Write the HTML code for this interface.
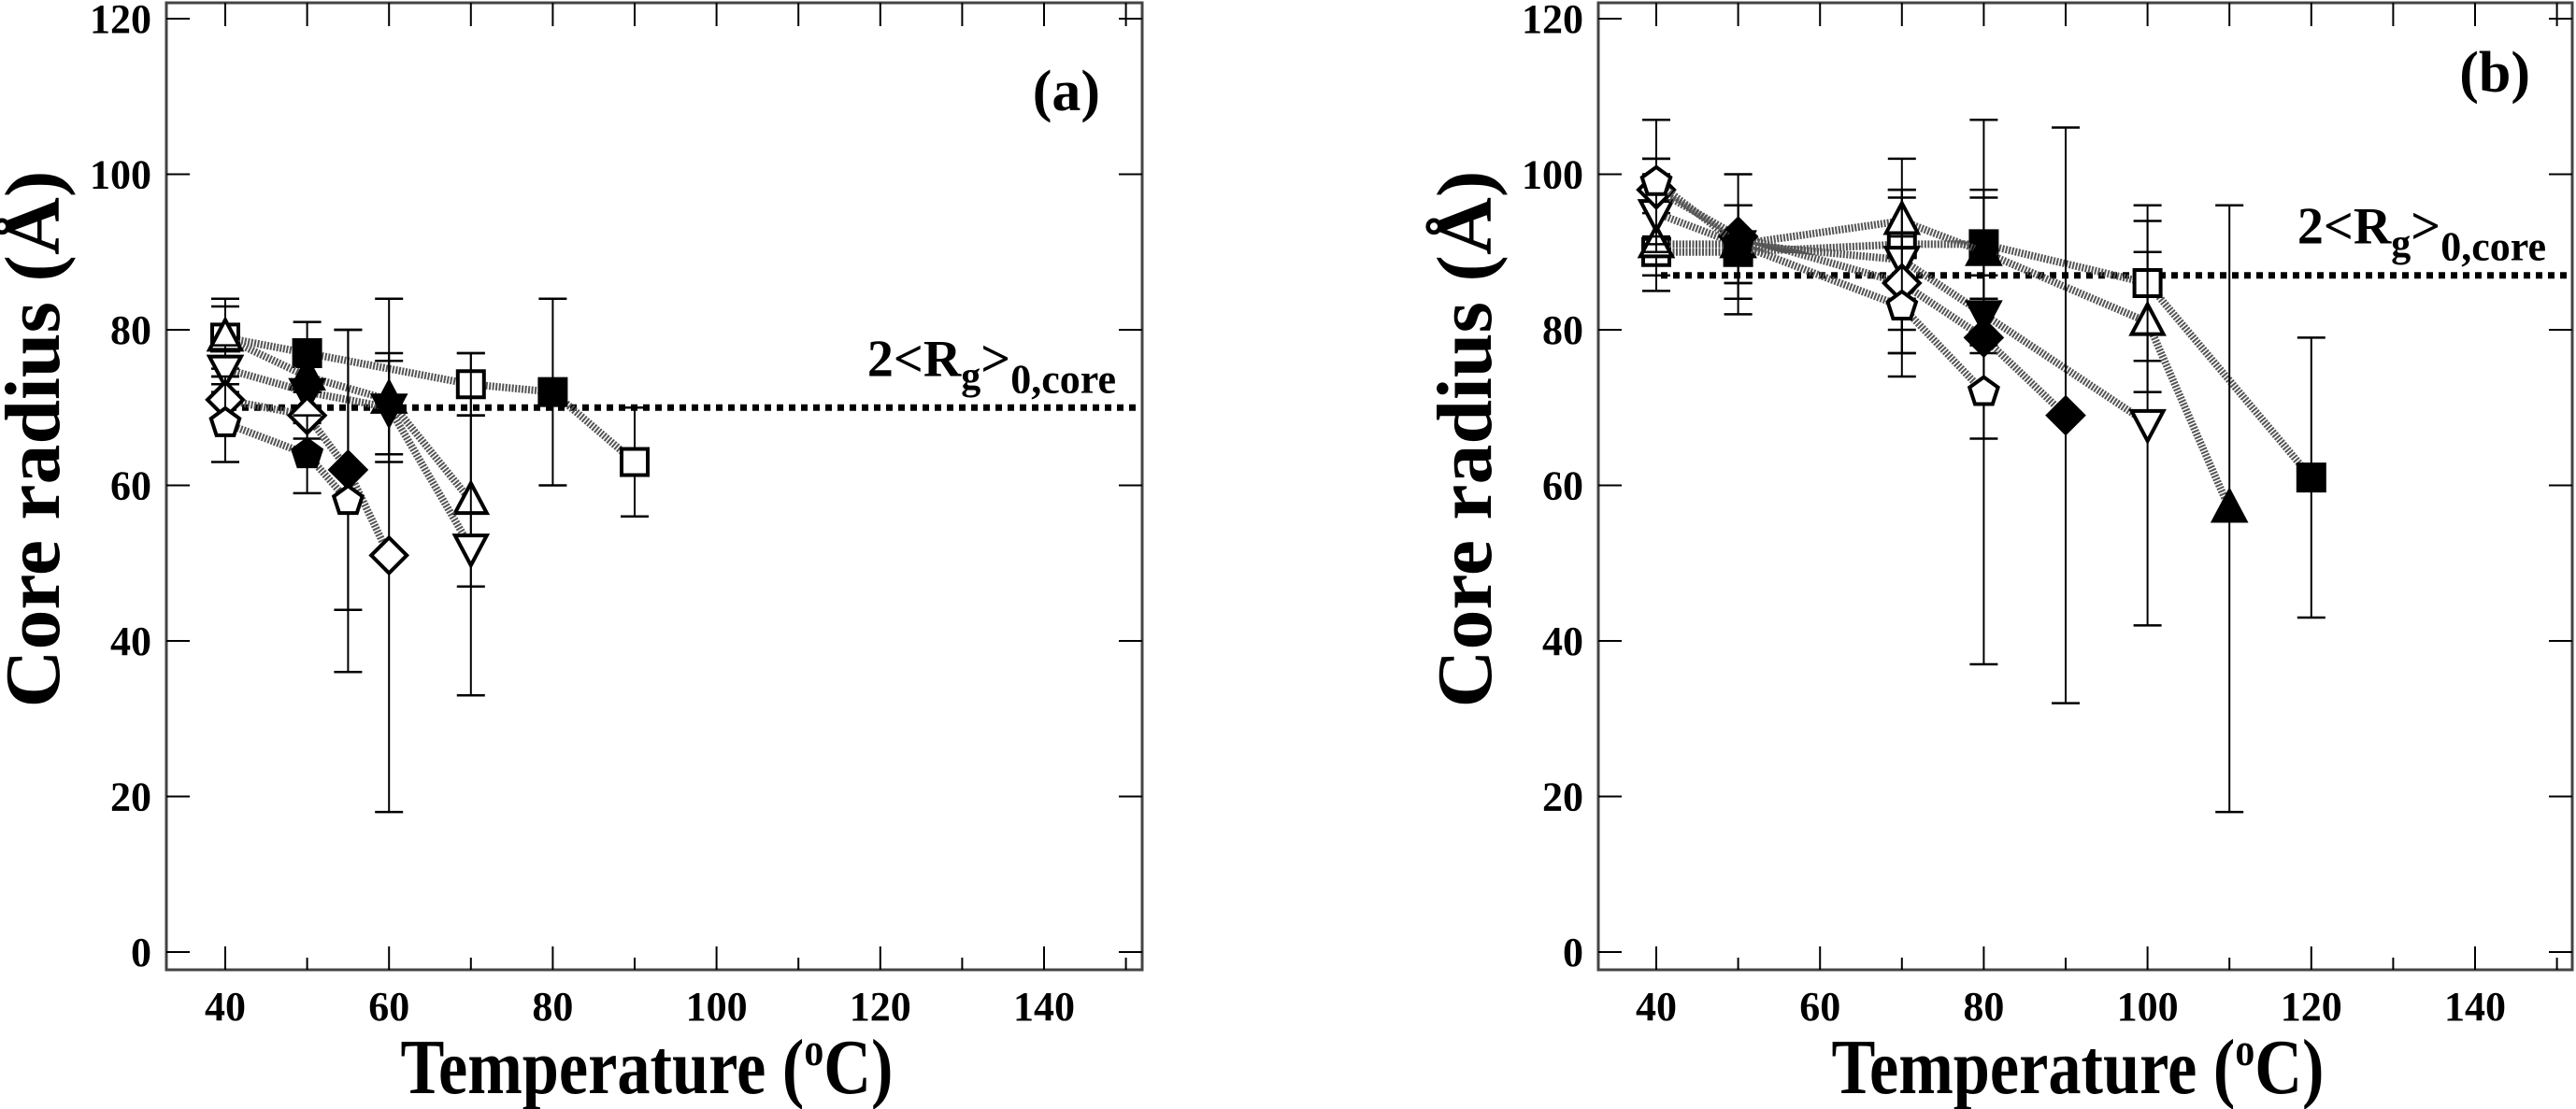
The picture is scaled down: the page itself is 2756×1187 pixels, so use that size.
<!DOCTYPE html>
<html><head><meta charset="utf-8"><style>
html,body{margin:0;padding:0;background:#fff;}
svg{display:block;}
text{font-family:"Liberation Serif",serif;font-weight:bold;fill:#000;}
</style></head><body>
<svg id="fig" width="2756" height="1187" viewBox="0 0 2756 1187" xmlns="http://www.w3.org/2000/svg"></svg>
<script>
// ---- data ----
const xTicks = [40, 60, 80, 100, 120, 140];
const yTicks = [0, 20, 40, 60, 80, 100, 120];
const refA = 70;
const refB = 87;
// each series: [temperature, value, low, high, filled(1/0)]
const aSquare   = [[40,79,75,83,0],[50,77,73,81,1],[70,73,69,77,0],[80,72,60,84,1],[90,63,56,70,0]];
const aTriangle = [[40,79,74,84,0],[50,74,70,78,1],[60,71,63,77,1],[70,58,47,69,0]];
const aDown     = [[40,75,72,78,0],[50,72,68,76,1],[60,70,64,76,1],[70,52,33,77,0]];
const aDiamond  = [[40,71,68,74,0],[50,69,66,72,0],[55,62,44,80,1],[60,51,18,84,0]];
const aPentagon = [[40,68,63,73,0],[50,64,59,69,1],[55,58,36,80,0]];
const bSquare   = [[40,90,85,95,0],[50,90,84,96,1],[70,91,84,98,0],[80,91,84,98,1],[100,86,76,96,0],[120,61,43,79,1]];
const bTriangle = [[40,91,87,102,0],[50,91,86,96,1],[70,94,77,102,0],[80,90,84,97,1],[100,81,72,90,0],[110,57,18,96,1]];
const bDown     = [[40,95,90,100,0],[50,91,86,96,1],[70,89,80,98,0],[80,82,77,87,1],[100,68,42,94,0]];
const bDiamond  = [[40,98,92,102,0],[50,92,82,100,1],[70,86,77,97,0],[80,79,37,107,1],[90,69,32,106,1]];
const bPentagon = [[40,99,91,107,0],[50,91,84,96,1],[70,83,74,92,0],[80,72,66,78,0]];

const NS = "http://www.w3.org/2000/svg";
const svg = document.getElementById('fig');
function mk(tag, attrs, parent){
  const e = document.createElementNS(NS, tag);
  for (const k in attrs) e.setAttribute(k, attrs[k]);
  (parent||svg).appendChild(e);
  return e;
}
function panel(id, x0, left, right, label, refVal, series){
  const g = mk('g', {});
  
  
  const top = 3, bottom = 1038;
  const X = t => x0 + (t - 40) * 8.76;
  const Y = v => 1019 - v * 8.325;
  // frame
  const fr = mk('rect', {x:left, y:top, width:right-left, height:bottom-top, fill:'none', stroke:'#444', 'stroke-width':3}, g);
  
  
  // x ticks
  for (let t = 40; t <= 150; t += 10) {
    const major = (t % 20 === 0) && t <= 140;
    mk('line', {x1:X(t), x2:X(t), y1:bottom, y2:bottom-(major?25:13), stroke:'#000','stroke-width':2}, g);
    mk('line', {x1:X(t), x2:X(t), y1:top, y2:top+25, stroke:'#000','stroke-width':2}, g);
  }
  xTicks.forEach(t => {
    const tx = mk('text', {x:X(t), y:1092, 'text-anchor':'middle', 'font-size':44}, g);
    tx.textContent = t;
    
    
  });
  yTicks.forEach(v => {
    mk('line', {x1:left, x2:left+25, y1:Y(v), y2:Y(v), stroke:'#000','stroke-width':2}, g);
    mk('line', {x1:right, x2:right-25, y1:Y(v), y2:Y(v), stroke:'#000','stroke-width':2}, g);
    const ty = mk('text', {x:left-16, y:Y(v)+15, 'text-anchor':'end', 'font-size':44}, g);
    ty.textContent = v;
    
    
  });
  // axis titles
  const xt = mk('text', {x:(left+right)/2 - 8, y:1170, 'text-anchor':'middle', 'font-size':84, textLength:527, lengthAdjust:'spacingAndGlyphs'}, g);
  xt.innerHTML = 'Temperature (<tspan font-size="50" dy="-30">o</tspan><tspan dy="30">C)</tspan>';
  
  
  const yx = left - 115;
  const yt = mk('text', {x:0, y:0, 'text-anchor':'middle', 'font-size':84, transform:`translate(${yx},470) rotate(-90)`, textLength:575, lengthAdjust:'spacingAndGlyphs'}, g);
  yt.textContent = 'Core radius (Å)';
  
  
  // panel label
  const pl = mk('text', {x:right-45, y:id==='a'?118:98, 'text-anchor':'end', 'font-size':62}, g);
  pl.textContent = label;
  
  
  // reference line
  const rl = mk('line', {x1:X(40)+5, x2:right-3, y1:Y(refVal), y2:Y(refVal), stroke:'#000','stroke-width':7,'stroke-dasharray':'7 6'}, g);
  
  
  const rt = mk('text', {x:right-28, y:Y(refVal)-34, 'text-anchor':'end', 'font-size':56}, g);
  rt.innerHTML = '2&lt;R<tspan font-size="42" dy="14">g</tspan><tspan dy="-14">&gt;</tspan><tspan font-size="44" dy="18">0,core</tspan>';
  
  
  // series
  series.forEach(([shape, pts]) => {
    const sg = mk('g', {}, g);
    
    
    pts.forEach(p => {
      mk('line', {x1:X(p[0]), x2:X(p[0]), y1:Y(p[2]), y2:Y(p[3]), stroke:'#000','stroke-width':2}, sg);
      [p[2], p[3]].forEach(v => mk('line', {x1:X(p[0])-15, x2:X(p[0])+15, y1:Y(v), y2:Y(v), stroke:'#000','stroke-width':2.5}, sg));
    });
    const pl2 = mk('polyline', {points: pts.map(p => X(p[0]) + ',' + Y(p[1])).join(' '), fill:'none', stroke:'#555', 'stroke-width':8, 'stroke-dasharray':'2 1.5'}, sg);
    
    
    pts.forEach(p => {
      const cx = X(p[0]), cy = Y(p[1]);
      let d;
      if (shape === 'square') d = `M${cx-14},${cy-14}h28v28h-28z`;
      else if (shape === 'triangle') d = `M${cx},${cy-19}L${cx+17},${cy+13}L${cx-17},${cy+13}z`;
      else if (shape === 'down-triangle') d = `M${cx},${cy+19}L${cx+17},${cy-13}L${cx-17},${cy-13}z`;
      else if (shape === 'diamond') d = `M${cx},${cy-19}L${cx+19},${cy}L${cx},${cy+19}L${cx-19},${cy}z`;
      else {
        let s = '';
        for (let i = 0; i < 5; i++) { const a = -Math.PI/2 + i*2*Math.PI/5; s += (i?'L':'M') + (cx+16*Math.cos(a)) + ',' + (cy+16*Math.sin(a)); }
        d = s + 'z';
      }
      const m = mk('path', {d, fill:p[4]?'#000':'#fff', stroke:'#000', 'stroke-width':4}, sg);
      
      
    });
  });
}
panel('a', 241, 178, 1222, '(a)', refA, [['square',aSquare],['triangle',aTriangle],['down-triangle',aDown],['diamond',aDiamond],['pentagon',aPentagon]]);
panel('b', 1772, 1710, 2752, '(b)', refB, [['square',bSquare],['triangle',bTriangle],['down-triangle',bDown],['diamond',bDiamond],['pentagon',bPentagon]]);
</script>
</body></html>
